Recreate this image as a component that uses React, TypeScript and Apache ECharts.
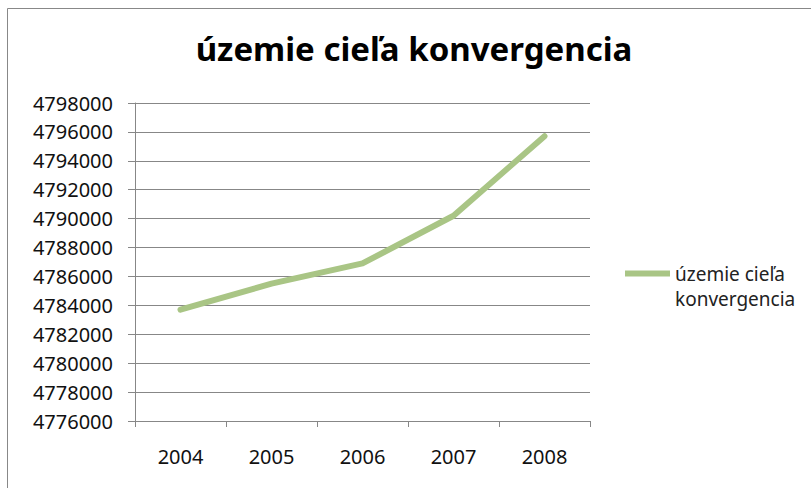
import React, { useEffect, useRef } from "react";
import * as echarts from "echarts";

const years = ["2004", "2005", "2006", "2007", "2008"];
const values = [4783700, 4785500, 4786900, 4790200, 4795700];
const seriesName = "územie cieľa konvergencia";
const titleText = "územie cieľa konvergencia";
const legendLines = ["územie cieľa", "konvergencia"];
const yMin = 4776000;
const yMax = 4798000;
const yStep = 2000;

export default function App() {
  const ref = useRef<HTMLDivElement>(null);
  useEffect(() => {
    if (!ref.current) return;
    const chart = echarts.init(ref.current, null, { renderer: "svg" });
    const font = "'Noto Sans', sans-serif";
    chart.setOption({
      animation: false,
      backgroundColor: "#ffffff",
      title: {
        text: titleText,
        left: 409,
        top: 27,
        textAlign: "center",
        textStyle: { fontFamily: font, fontSize: 33, fontWeight: "bold", color: "#000" },
      },
      graphic: [
        {
          type: "rect",
          shape: { x: 7.5, y: 8.5, width: 900, height: 600 },
          style: { fill: "none", stroke: "#888888", lineWidth: 1 },
          silent: true,
        },
      ],
      legend: {
        left: 625,
        top: 261,
        padding: 0,
        itemWidth: 45,
        itemHeight: 31,
        icon: "path://M0,0H45V6H0Z M0,30.9H0.1V31H0Z",
        formatter: () => legendLines.join("\n"),
        textStyle: { fontFamily: font, fontSize: 19, color: "#222", lineHeight: 25 },
        data: [seriesName],
      },
      grid: { left: 135, right: 221, top: 103, bottom: 67, containLabel: false },
      xAxis: {
        type: "category",
        data: years,
        boundaryGap: true,
        axisLine: { lineStyle: { color: "#878787", width: 1 } },
        axisTick: { show: true, length: 6, alignWithLabel: false, lineStyle: { color: "#878787" } },
        axisLabel: { margin: 25, fontFamily: font, fontSize: 20, color: "#111" },
      },
      yAxis: {
        type: "value",
        min: yMin,
        max: yMax,
        interval: yStep,
        axisLine: { show: true, lineStyle: { color: "#878787", width: 1 } },
        axisTick: { show: true, length: 7, lineStyle: { color: "#878787" } },
        axisLabel: {
          margin: 22,
          fontFamily: font,
          fontSize: 20,
          color: "#111",
          formatter: (v: number) => String(v),
        },
        splitLine: { show: true, lineStyle: { color: "#878787", width: 1 } },
      },
      series: [
        {
          name: seriesName,
          type: "line",
          data: values,
          symbol: "none",
          color: "#A9C585",
          lineStyle: { color: "#A9C585", width: 6, cap: "round", join: "round" },
        },
      ],
    });
    return () => chart.dispose();
  }, []);
  return (
    <div
      ref={ref}
      style={{ position: "fixed", left: 0, top: 0, width: 811, height: 488 }}
    />
  );
}
